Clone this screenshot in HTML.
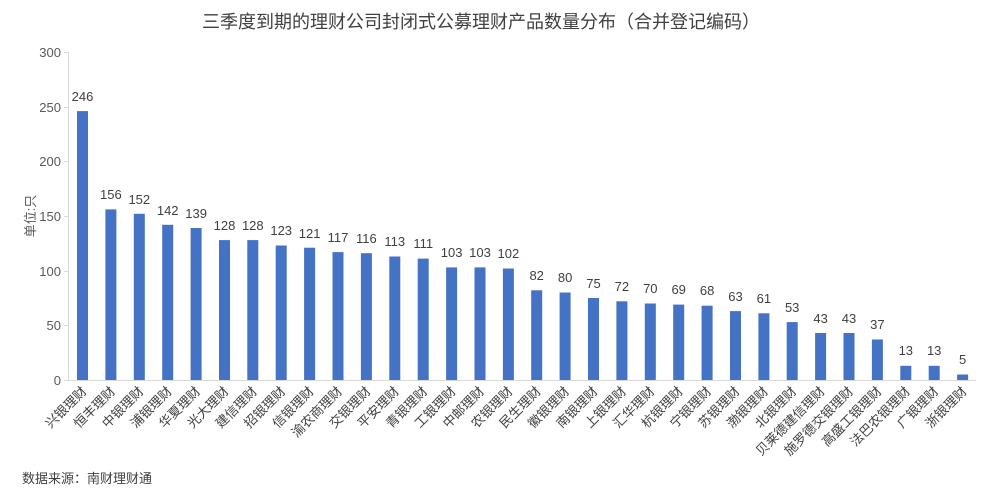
<!DOCTYPE html>
<html><head><meta charset="utf-8"><style>
html,body{margin:0;padding:0;background:#fff;}
svg{display:block;font-family:"Liberation Sans","Noto Sans CJK SC","Microsoft YaHei",sans-serif;}
</style></head><body>
<svg width="990" height="502" viewBox="0 0 990 502" xmlns="http://www.w3.org/2000/svg">
<text x="481" y="28" text-anchor="middle" font-size="18" fill="#404040">三季度到期的理财公司封闭式公募理财产品数量分布（合并登记编码）</text>
<g stroke="#d9d9d9" stroke-width="1">
<line x1="68.5" y1="52" x2="68.5" y2="381"/>
<line x1="68" y1="380.5" x2="976" y2="380.5"/>
<line x1="64" y1="52.5" x2="68" y2="52.5"/>
<line x1="64" y1="107.5" x2="68" y2="107.5"/>
<line x1="64" y1="161.5" x2="68" y2="161.5"/>
<line x1="64" y1="216.5" x2="68" y2="216.5"/>
<line x1="64" y1="271.5" x2="68" y2="271.5"/>
<line x1="64" y1="325.5" x2="68" y2="325.5"/>
<line x1="64" y1="380.5" x2="68" y2="380.5"/>
</g>
<g font-size="13" fill="#595959" text-anchor="end">
<text x="61" y="57">300</text><text x="61" y="112">250</text><text x="61" y="166">200</text>
<text x="61" y="221">150</text><text x="61" y="276">100</text><text x="61" y="330">50</text><text x="61" y="385">0</text>
</g>
<text transform="translate(35,216) rotate(-90)" text-anchor="middle" font-size="13" fill="#595959">单位:只</text>
<g fill="#4472c4">
<rect x="77" y="111.1" width="11" height="268.9"/>
<rect x="105.4" y="209.4" width="11" height="170.6"/>
<rect x="133.8" y="213.8" width="11" height="166.2"/>
<rect x="162.2" y="224.8" width="11" height="155.2"/>
<rect x="190.6" y="228" width="11" height="152"/>
<rect x="219" y="240.1" width="11" height="139.9"/>
<rect x="247.3" y="240.1" width="11" height="139.9"/>
<rect x="275.7" y="245.5" width="11" height="134.5"/>
<rect x="304.1" y="247.7" width="11" height="132.3"/>
<rect x="332.5" y="252.1" width="11" height="127.9"/>
<rect x="360.9" y="253.2" width="11" height="126.8"/>
<rect x="389.3" y="256.5" width="11" height="123.5"/>
<rect x="417.7" y="258.6" width="11" height="121.4"/>
<rect x="446.1" y="267.4" width="11" height="112.6"/>
<rect x="474.5" y="267.4" width="11" height="112.6"/>
<rect x="502.9" y="268.5" width="11" height="111.5"/>
<rect x="531.2" y="290.3" width="11" height="89.7"/>
<rect x="559.6" y="292.5" width="11" height="87.5"/>
<rect x="588" y="298" width="11" height="82"/>
<rect x="616.4" y="301.3" width="11" height="78.7"/>
<rect x="644.8" y="303.5" width="11" height="76.5"/>
<rect x="673.2" y="304.6" width="11" height="75.4"/>
<rect x="701.6" y="305.7" width="11" height="74.3"/>
<rect x="730" y="311.1" width="11" height="68.9"/>
<rect x="758.4" y="313.3" width="11" height="66.7"/>
<rect x="786.7" y="322.1" width="11" height="57.9"/>
<rect x="815.1" y="333" width="11" height="47"/>
<rect x="843.5" y="333" width="11" height="47"/>
<rect x="871.9" y="339.5" width="11" height="40.5"/>
<rect x="900.3" y="365.8" width="11" height="14.2"/>
<rect x="928.7" y="365.8" width="11" height="14.2"/>
<rect x="957.1" y="374.5" width="11" height="5.5"/>
</g>
<g font-size="13" fill="#404040" text-anchor="middle">
<text x="82.5" y="101">246</text><text x="110.9" y="199">156</text><text x="139.3" y="204">152</text>
<text x="167.7" y="215">142</text><text x="196.1" y="218">139</text><text x="224.5" y="230">128</text>
<text x="252.8" y="230">128</text><text x="281.2" y="235">123</text><text x="309.6" y="238">121</text>
<text x="338" y="242">117</text><text x="366.4" y="243">116</text><text x="394.8" y="246">113</text>
<text x="423.2" y="248">111</text><text x="451.6" y="257">103</text><text x="480" y="257">103</text>
<text x="508.4" y="258">102</text><text x="536.7" y="280">82</text><text x="565.1" y="282">80</text>
<text x="593.5" y="288">75</text><text x="621.9" y="291">72</text><text x="650.3" y="293">70</text>
<text x="678.7" y="294">69</text><text x="707.1" y="295">68</text><text x="735.5" y="301">63</text>
<text x="763.9" y="303">61</text><text x="792.2" y="312">53</text><text x="820.6" y="323">43</text>
<text x="849" y="323">43</text><text x="877.4" y="329">37</text><text x="905.8" y="355">13</text>
<text x="934.2" y="355">13</text><text x="962.6" y="364">5</text>
</g>
<g font-size="13" fill="#404040" text-anchor="end">
<text transform="translate(87.5,392) rotate(-45)">兴银理财</text>
<text transform="translate(115.9,392) rotate(-45)">恒丰理财</text>
<text transform="translate(144.3,392) rotate(-45)">中银理财</text>
<text transform="translate(172.7,392) rotate(-45)">浦银理财</text>
<text transform="translate(201.1,392) rotate(-45)">华夏理财</text>
<text transform="translate(229.5,392) rotate(-45)">光大理财</text>
<text transform="translate(257.8,392) rotate(-45)">建信理财</text>
<text transform="translate(286.2,392) rotate(-45)">招银理财</text>
<text transform="translate(314.6,392) rotate(-45)">信银理财</text>
<text transform="translate(343,392) rotate(-45)">渝农商理财</text>
<text transform="translate(371.4,392) rotate(-45)">交银理财</text>
<text transform="translate(399.8,392) rotate(-45)">平安理财</text>
<text transform="translate(428.2,392) rotate(-45)">青银理财</text>
<text transform="translate(456.6,392) rotate(-45)">工银理财</text>
<text transform="translate(485,392) rotate(-45)">中邮理财</text>
<text transform="translate(513.4,392) rotate(-45)">农银理财</text>
<text transform="translate(541.7,392) rotate(-45)">民生理财</text>
<text transform="translate(570.1,392) rotate(-45)">徽银理财</text>
<text transform="translate(598.5,392) rotate(-45)">南银理财</text>
<text transform="translate(626.9,392) rotate(-45)">上银理财</text>
<text transform="translate(655.3,392) rotate(-45)">汇华理财</text>
<text transform="translate(683.7,392) rotate(-45)">杭银理财</text>
<text transform="translate(712.1,392) rotate(-45)">宁银理财</text>
<text transform="translate(740.5,392) rotate(-45)">苏银理财</text>
<text transform="translate(768.9,392) rotate(-45)">渤银理财</text>
<text transform="translate(797.2,392) rotate(-45)">北银理财</text>
<text transform="translate(825.6,392) rotate(-45)">贝莱德建信理财</text>
<text transform="translate(854,392) rotate(-45)">施罗德交银理财</text>
<text transform="translate(882.4,392) rotate(-45)">高盛工银理财</text>
<text transform="translate(910.8,392) rotate(-45)">法巴农银理财</text>
<text transform="translate(939.2,392) rotate(-45)">广银理财</text>
<text transform="translate(967.6,392) rotate(-45)">浙银理财</text>
</g>
<text x="22" y="483" font-size="13" fill="#404040">数据来源：南财理财通</text>
</svg>
</body></html>
